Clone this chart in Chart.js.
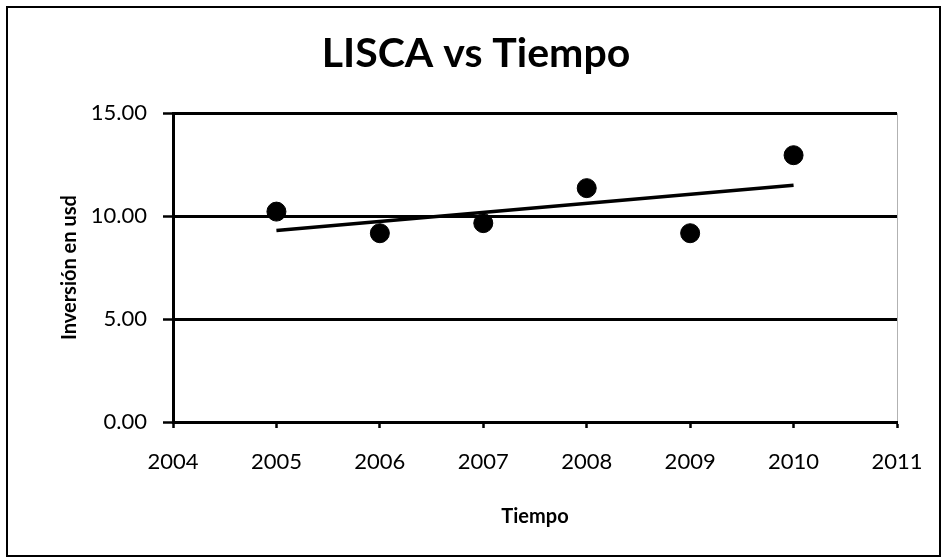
<!DOCTYPE html>
<html>
<head>
<meta charset="utf-8">
<title>LISCA vs Tiempo</title>
<script src="https://cdn.jsdelivr.net/npm/chart.js@4.4.1/dist/chart.umd.min.js"></script>
<style>
	html, body { margin: 0; padding: 0; background: #fff; }
	#wrap { width: 946px; height: 560px; position: relative; }
</style>
</head>
<body>
<div id="wrap"><canvas id="chart"></canvas></div>
<script>
// data
var years = [2005, 2006, 2007, 2008, 2009, 2010];
var lisca = [10.22, 9.17, 9.66, 11.36, 9.17, 12.96];
// linear trend drawn by the spreadsheet, end points
var trendYears = [2005, 2010];
var trendVals = [9.3, 11.5];
var xTicks = [2004, 2005, 2006, 2007, 2008, 2009, 2010, 2011];
var yTicks = [0, 5, 10, 15];

var FONT = "Lato, 'Open Sans', sans-serif";

// white page + the black frame round the whole chart
var framePlugin = {
	id: 'frame',
	beforeDraw: function(chart) {
		var ctx = chart.ctx;
		ctx.save();
		ctx.fillStyle = '#fff';
		ctx.fillRect(0, 0, chart.width, chart.height);
		ctx.strokeStyle = '#000';
		ctx.lineWidth = 2;
		ctx.strokeRect(7, 7, 933, 549);
		ctx.restore();
	}
};

var ctx = document.getElementById('chart').getContext('2d');
var chart = new Chart(ctx, {
	type: 'scatter',
	data: {
		datasets: [
			{
				label: 'LISCA',
				data: years.map((y, i) => ({x: y, y: lisca[i]})),
				pointRadius: 9.5,
				pointHoverRadius: 9.5,
				pointBackgroundColor: '#000',
				pointBorderColor: '#000',
				showLine: false
			},
			{
				label: 'Lineal (LISCA)',
				data: trendYears.map((y, i) => ({x: y, y: trendVals[i]})),
				showLine: true,
				borderColor: '#000',
				borderWidth: 3.5,
				pointRadius: 0
			}
		]
	},
	options: {
		responsive: true,
		maintainAspectRatio: false,
		animation: false,
		layout: { padding: { left: 55, right: 49, top: 0, bottom: 0 } },
		plugins: {
			legend: { display: false },
			tooltip: { enabled: false },
			title: {
				display: true,
				text: 'LISCA vs Tiempo',
				color: '#000',
				font: { family: FONT, size: 41, weight: 'bold' },
				padding: { top: 29, bottom: 35 }
			}
		},
		scales: {
			x: {
				type: 'linear',
				min: xTicks[0],
				max: xTicks[xTicks.length - 1],
				afterBuildTicks: function(scale) { scale.ticks = xTicks.map(v => ({value: v})); },
				afterFit: function(scale) { scale.height = 138; },
				ticks: {
					color: '#000',
					padding: 21,
					font: { family: FONT, size: 22 },
					callback: v => String(v)
				},
				grid: {
					drawOnChartArea: true,
					color: c => (c.tick && c.tick.value === 2011) ? 'rgba(0,0,0,0.3)' : 'rgba(0,0,0,0)',
					tickColor: '#000',
					tickLength: 6,
					tickWidth: 2.5,
					lineWidth: 1
				},
				border: { color: '#000', width: 3 },
				title: {
					display: true,
					text: 'Tiempo',
					color: '#000',
					font: { family: FONT, size: 20, weight: 'bold' },
					padding: { top: 0, bottom: 31 }
				}
			},
			y: {
				min: 0,
				max: 15,
				afterBuildTicks: function(scale) { scale.ticks = yTicks.map(v => ({value: v})); },
				afterFit: function(scale) { scale.width = 118; },
				ticks: {
					color: '#000',
					padding: 16,
					font: { family: FONT, size: 22 },
					callback: v => v.toFixed(2)
				},
				grid: {
					color: '#000',
					lineWidth: 3,
					tickLength: 10,
					tickWidth: 2.5
				},
				border: { color: '#000', width: 3 },
				title: {
					display: true,
					text: 'Inversión en usd',
					color: '#000',
					font: { family: FONT, size: 20, weight: 'bold' },
					padding: { top: 3, bottom: 0 }
				}
			}
		}
	},
	plugins: [framePlugin]
});
</script>
</body>
</html>
